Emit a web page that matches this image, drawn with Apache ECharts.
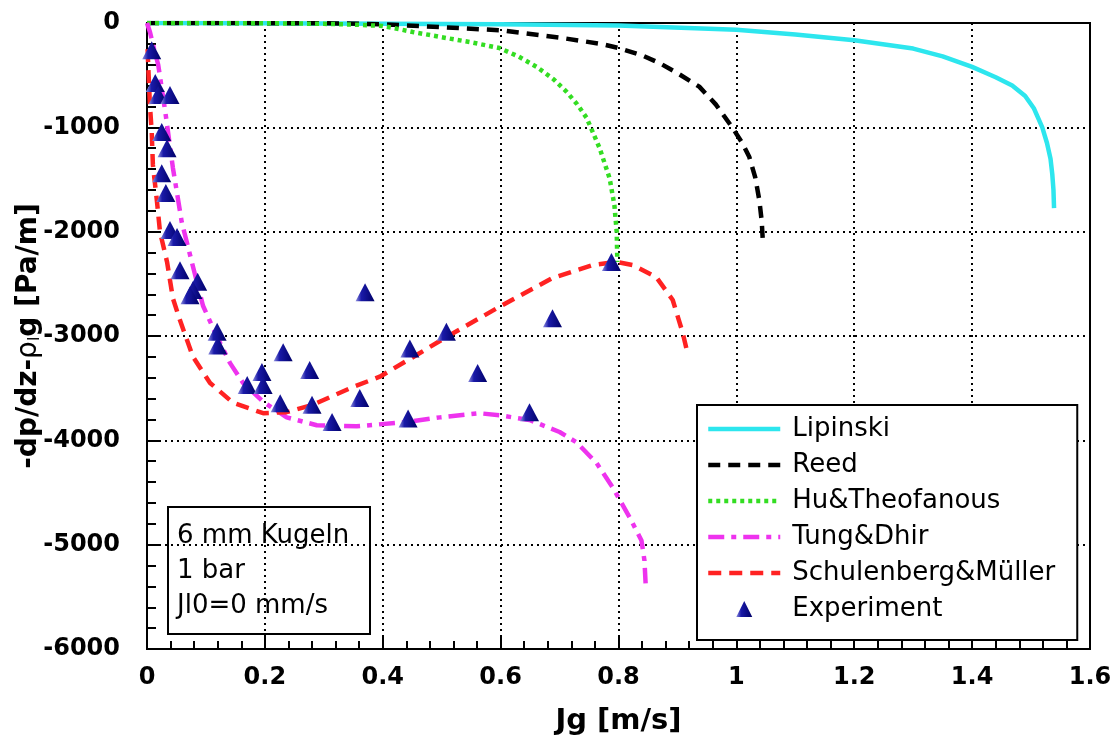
<!DOCTYPE html>
<html>
<head>
<meta charset="utf-8">
<script src="https://cdn.jsdelivr.net/npm/echarts@6/dist/echarts.min.js"></script>
<style>
  html, body { margin: 0; padding: 0; background: #fff; }
  #chart { width: 1111px; height: 752px; }
</style>
</head>
<body>
<div id="chart"></div>
<script>
// values, [Jg, -dp/dz-rho_l g]
const lipinski = [[0,0],[0.2,-3],[0.4,-8],[0.6,-12],[0.8,-25],[1.0,-65],[1.1,-110],[1.2,-165],[1.3,-245],[1.35,-320],[1.4,-420],[1.44,-520],[1.468,-600],[1.49,-700],[1.505,-820],[1.519,-1000],[1.527,-1150],[1.533,-1300],[1.536,-1450],[1.538,-1600],[1.539,-1775]];
const reed = [[0,0],[0.3,-2],[0.4,-12],[0.5,-40],[0.6,-70],[0.7,-140],[0.77,-200],[0.8,-240],[0.84,-310],[0.87,-385],[0.9,-480],[0.937,-610],[0.965,-780],[0.993,-1000],[1.01,-1150],[1.022,-1285],[1.032,-1480],[1.039,-1700],[1.043,-1900],[1.045,-2100]];
const huTheofanous = [[0,0],[0.2,-2],[0.3,-8],[0.35,-15],[0.4,-28],[0.451,-86],[0.508,-144],[0.55,-185],[0.598,-240],[0.63,-320],[0.661,-420],[0.69,-540],[0.712,-660],[0.73,-780],[0.746,-910],[0.768,-1200],[0.785,-1490],[0.793,-1745],[0.797,-2005],[0.798,-2290]];
const tungDhir = [[0,0],[0.005,-86],[0.012,-250],[0.019,-400],[0.031,-850],[0.044,-1390],[0.059,-1910],[0.076,-2290],[0.095,-2710],[0.119,-3010],[0.141,-3260],[0.163,-3450],[0.197,-3630],[0.237,-3780],[0.288,-3855],[0.356,-3865],[0.44,-3825],[0.497,-3780],[0.564,-3740],[0.598,-3760],[0.649,-3805],[0.70,-3920],[0.729,-4020],[0.763,-4220],[0.79,-4450],[0.819,-4740],[0.839,-4960],[0.844,-5150],[0.846,-5370]];
const schulenberg = [[0.001,-250],[0.002,-400],[0.005,-790],[0.008,-1045],[0.01,-1360],[0.017,-1715],[0.022,-2000],[0.034,-2290],[0.044,-2640],[0.056,-2850],[0.078,-3200],[0.107,-3450],[0.146,-3640],[0.197,-3740],[0.237,-3730],[0.281,-3660],[0.349,-3490],[0.395,-3390],[0.458,-3180],[0.508,-3010],[0.598,-2720],[0.688,-2445],[0.756,-2320],[0.797,-2290],[0.824,-2320],[0.864,-2435],[0.892,-2655],[0.909,-2970],[0.915,-3115]];
const experiment = [[0.008,-260],[0.014,-575],[0.019,-690],[0.039,-690],[0.025,-1045],[0.034,-1200],[0.025,-1440],[0.032,-1630],[0.039,-1985],[0.051,-2050],[0.056,-2370],[0.086,-2480],[0.078,-2560],[0.073,-2610],[0.119,-2960],[0.12,-3090],[0.17,-3470],[0.195,-3345],[0.197,-3470],[0.231,-3155],[0.226,-3645],[0.276,-3325],[0.28,-3660],[0.314,-3825],[0.37,-2580],[0.361,-3595],[0.446,-3120],[0.443,-3790],[0.508,-2960],[0.561,-3355],[0.688,-2830],[0.649,-3730],[0.788,-2290]];
const infoLines = ['6 mm Kugeln', '1 bar', 'Jl0=0 mm/s'];
const lineNames = ['Lipinski', 'Reed', 'Hu&Theofanous', 'Tung&Dhir', 'Schulenberg&Müller'];

const chart = echarts.init(document.getElementById('chart'));

function lineSeries(name, data, color, type) {
  return {
    name: name, type: 'line', data: data, showSymbol: false, symbol: 'none',
    lineStyle: { color: color, width: 4.5, type: type },
    itemStyle: { color: color },
    z: 3
  };
}

const triColor = new echarts.graphic.LinearGradient(0, 0, 1, 0, [
  { offset: 0, color: '#9090e0' },
  { offset: 0.3, color: '#1a1aa8' },
  { offset: 1, color: '#000068' }
]);

const legendData = lineNames.map(function (n) {
  return { name: n, itemStyle: { opacity: 0 }, lineStyle: { width: 4.5 } };
});
legendData.push({ name: 'Experiment', icon: 'path://M8,0L16,16L0,16Z', itemStyle: { opacity: 1 } });

const option = {
  animation: false,
  backgroundColor: '#fff',
  textStyle: { fontFamily: 'DejaVu Sans' },
  grid: { left: 147, right: 21, top: 23, bottom: 103, show: true, borderColor: '#000', borderWidth: 2, outerBoundsMode: 'none', containLabel: false },
  xAxis: {
    type: 'value', min: 0, max: 1.6, interval: 0.2,
    name: 'Jg [m/s]', nameLocation: 'middle', nameGap: 58,
    nameTextStyle: { fontSize: 29, fontWeight: 'bold', color: '#000' },
    axisLine: { onZero: false, lineStyle: { color: '#000', width: 2 } },
    axisTick: { inside: true, length: 14, lineStyle: { color: '#000', width: 2 } },
    minorTick: { show: true, splitNumber: 5, length: 8, lineStyle: { color: '#000', width: 2 } },
    axisLabel: { fontSize: 24, fontWeight: 'bold', color: '#000', margin: 17 },
    splitLine: { show: true, lineStyle: { color: '#000', width: 2, type: [2, 4] } }
  },
  yAxis: {
    type: 'value', min: -6000, max: 0, interval: 1000,
    name: '-dp/dz-{r|ρ}{s|l}g [Pa/m]', nameLocation: 'middle', nameGap: 104,
    nameMoveOverlap: false,
    nameTextStyle: {
      fontSize: 28, fontWeight: 'bold', color: '#000',
      rich: {
        r: { fontSize: 28, fontWeight: 'normal', color: '#000' },
        s: { fontSize: 16, fontWeight: 'normal', color: '#000', padding: [12, 0, 0, 0] }
      }
    },
    axisLine: { onZero: false, lineStyle: { color: '#000', width: 2 } },
    axisTick: { inside: true, length: 14, lineStyle: { color: '#000', width: 2 } },
    minorTick: { show: true, splitNumber: 5, length: 9, lineStyle: { color: '#000', width: 2 } },
    axisLabel: { fontSize: 24, fontWeight: 'bold', color: '#000', margin: 27, formatter: function (v) { return String(v); } },
    splitLine: { show: true, lineStyle: { color: '#000', width: 2, type: [2, 4] } }
  },
  legend: {
    orient: 'vertical', left: 697, top: 405,
    backgroundColor: '#fff', borderColor: '#000', borderWidth: 2,
    padding: [9, 22, 16, 9], itemGap: 6, itemWidth: 72, itemHeight: 16,
    symbolKeepAspect: true,
    textStyle: { fontSize: 26, color: '#000', lineHeight: 30, padding: [0, 0, 0, 7] },
    data: legendData
  },
  graphic: [{
    type: 'group', left: 167, top: 506, z: 100,
    children: [
      { type: 'rect', shape: { x: 0, y: 0, width: 202, height: 127 }, style: { fill: '#fff', stroke: '#000', lineWidth: 2 } }
    ].concat(infoLines.map(function (t, i) {
      return { type: 'text', x: 9, y: 29 + i * 35, style: { text: t, font: '26px "DejaVu Sans"', fill: '#000', textVerticalAlign: 'middle' } };
    }))
  }],
  series: [
    lineSeries('Lipinski', lipinski, '#2de6ee', 'solid'),
    lineSeries('Reed', reed, '#000', [12, 8]),
    lineSeries('Hu&Theofanous', huTheofanous, '#33dd22', [4, 4]),
    lineSeries('Tung&Dhir', tungDhir, '#ee33ee', [16, 7, 5, 7]),
    lineSeries('Schulenberg&Müller', schulenberg, '#ff2222', [13, 8]),
    {
      name: 'Experiment', type: 'scatter', data: experiment, symbol: 'triangle', symbolSize: [19, 18], z: 5,
      itemStyle: { color: triColor, opacity: 1 }
    }
  ]
};

chart.setOption(option);
</script>
</body>
</html>
